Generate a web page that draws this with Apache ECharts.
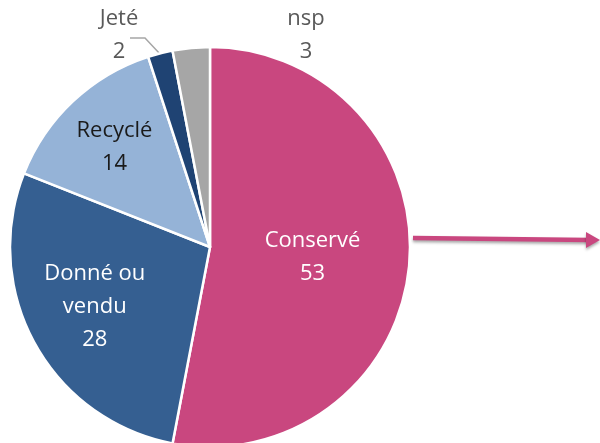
<!DOCTYPE html>
<html>
<head>
<meta charset="utf-8">
<script src="https://cdn.jsdelivr.net/npm/echarts@6/dist/echarts.min.js"></script>
<style>
  html, body { margin: 0; padding: 0; background: #fff; }
  #chart { width: 600px; height: 443px; }
</style>
</head>
<body>
<div id="chart"></div>
<script>
// Devenir de l'ancien appareil (en %)
const categories = ['Conservé', 'Donné ou\nvendu', 'Recyclé', 'Jeté', 'nsp'];
const values = [53, 28, 14, 2, 3];
const colors = ['#C9477F', '#355F91', '#95B3D7', '#1F4373', '#A6A6A6'];
const labelColors = ['#ffffff', '#ffffff', '#1a1a1a', '#595959', '#595959'];

const chart = echarts.init(document.getElementById('chart'), null, { renderer: 'canvas' });

const data = categories.map((name, i) => ({
  name,
  value: values[i],
  itemStyle: { color: colors[i] },
  label: {
    color: labelColors[i],
    position: i >= 3 ? 'outside' : 'inside',
    overflow: 'none'
  },
  labelLine: { show: i === 3 }
}));

// label offsets for the inner labels, fixed spots for the outer ones
const innerShift = { 0: [0, 1], 1: [-25, 10], 2: [-25, -25] };
const outerSpot = { 3: [119, 35], 4: [306, 35] };

chart.setOption({
  animation: false,
  series: [{
    type: 'pie',
    center: [210, 247],
    radius: 200,
    startAngle: 90,
    clockwise: true,
    data,
    itemStyle: { borderColor: '#ffffff', borderWidth: 2.5 },
    label: {
      formatter: '{b}\n{c}',
      fontFamily: 'Open Sans',
      fontSize: 22,
      lineHeight: 33,
      align: 'center',
      overflow: 'none'
    },
    labelLine: {
      lineStyle: { color: '#A6A6A6', width: 1.5 },
      length: 10,
      length2: 10
    },
    labelLayout: function (p) {
      const i = p.dataIndex;
      if (outerSpot[i]) {
        const s = outerSpot[i];
        const out = { x: s[0], y: s[1], align: 'center', verticalAlign: 'middle' };
        if (i === 3) {
          out.labelLinePoints = [[160, 54], [145, 38], [130, 38]];
        }
        return out;
      }
      const d = innerShift[i];
      return { dx: d[0], dy: d[1] };
    }
  }],
  graphic: [{
    type: 'group',
    children: [{
      type: 'line',
      shape: { x1: 413, y1: 238, x2: 590, y2: 240 },
      style: {
        stroke: '#C9477F', lineWidth: 4.5,
        shadowBlur: 3, shadowColor: 'rgba(0,0,0,0.35)', shadowOffsetY: 2
      }
    }, {
      type: 'polygon',
      shape: { points: [[586, 232], [600, 240], [586, 248]] },
      style: {
        fill: '#C9477F',
        shadowBlur: 3, shadowColor: 'rgba(0,0,0,0.35)', shadowOffsetY: 2
      }
    }]
  }]
});
</script>
</body>
</html>
